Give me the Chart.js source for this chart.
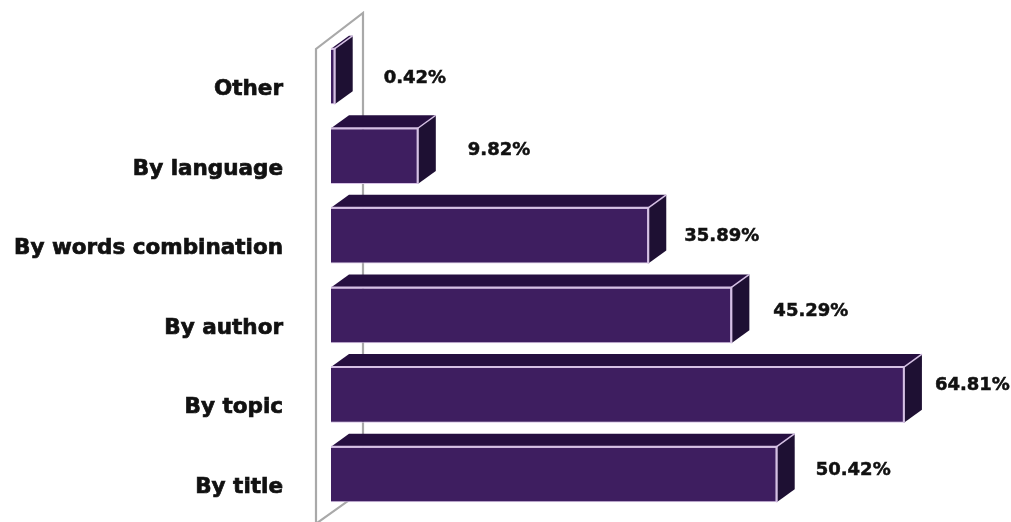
<!DOCTYPE html>
<html>
<head>
<meta charset="utf-8">
<title>Search types</title>
<script src="https://cdn.jsdelivr.net/npm/chart.js@4/dist/chart.umd.min.js"></script>
<style>
  html, body { margin: 0; padding: 0; background: #fff; }
  #chart { display: block; }
</style>
</head>
<body>
<canvas id="chart" width="1011" height="522"></canvas>
<script>
// Categories run top to bottom
const categories = ['Other', 'By language', 'By words combination', 'By author', 'By topic', 'By title'];
const percentages = [0.42, 9.82, 35.89, 45.29, 64.81, 50.42];
// Hand placed value labels: gap after the bar end and shift from the bar centre
const labelGaps = [49, 50, 36, 42, 31, 39];
const labelShifts = [1.5, -6, 1, -4, -10, -4.5];

const DEPTH_X = 18;
const DEPTH_Y = 13;
const VALUE_FONT = 'bold 18px "DejaVu Sans"';

const INK = '#111';
const FRONT = '#3e1e60';
const TOP = '#260f40';
const SIDE = '#1e1033';
const EDGE = '#d5c0e4';
const WALL = '#a9a9a9';

function fillPoly(ctx, points, color) {
  ctx.beginPath();
  points.forEach(([x, y], i) => (i ? ctx.lineTo(x, y) : ctx.moveTo(x, y)));
  ctx.closePath();
  ctx.fillStyle = color;
  ctx.fill();
}

function strokeLine(ctx, points, color, width) {
  ctx.beginPath();
  points.forEach(([x, y], i) => (i ? ctx.lineTo(x, y) : ctx.moveTo(x, y)));
  ctx.strokeStyle = color;
  ctx.lineWidth = width;
  ctx.stroke();
}

// Thin wall behind the zero line
const wallPlugin = {
  id: 'wall',
  beforeDatasetsDraw(chart) {
    const { ctx, chartArea, height } = chart;
    const frontX = chartArea.left - 15;
    const backX = frontX + 47;
    const topY = chartArea.top - 23.7;
    ctx.save();
    strokeLine(ctx, [
      [frontX, height + 2],
      [frontX, topY + 36],
      [backX, topY],
      [backX, chartArea.bottom - 24],
      [frontX + 1, height + 1]
    ], WALL, 2.2);
    ctx.restore();
  }
};

// Top and side faces of each bar plus the value next to it
const boxPlugin = {
  id: 'box',
  afterDatasetsDraw(chart) {
    const { ctx } = chart;
    const bars = chart.getDatasetMeta(0).data;
    ctx.save();
    bars.forEach((bar, i) => {
      const left = bar.base;
      const right = bar.x;
      const top = bar.y - bar.height / 2;
      const bottom = bar.y + bar.height / 2;

      fillPoly(ctx, [
        [left, top], [right, top],
        [right + DEPTH_X, top - DEPTH_Y], [left + DEPTH_X, top - DEPTH_Y]
      ], TOP);
      fillPoly(ctx, [
        [right, top], [right + DEPTH_X, top - DEPTH_Y],
        [right + DEPTH_X, bottom - DEPTH_Y], [right, bottom]
      ], SIDE);

      strokeLine(ctx, [[left, top], [right, top], [right, bottom]], EDGE, 2);
      strokeLine(ctx, [[right, top], [right + DEPTH_X, top - DEPTH_Y]], EDGE, 1.5);

      const text = percentages[i].toFixed(2) + '%';
      const x = right + labelGaps[i];
      const y = bar.y + labelShifts[i];
      ctx.font = VALUE_FONT;
      ctx.textAlign = 'left';
      ctx.textBaseline = 'middle';
      ctx.strokeStyle = INK;
      ctx.lineWidth = 0.5;
      ctx.strokeText(text, x, y);
      ctx.fillStyle = INK;
      ctx.fillText(text, x, y);
    });
    ctx.restore();
  }
};

new Chart(document.getElementById('chart'), {
  type: 'bar',
  data: {
    labels: categories,
    datasets: [{
      data: percentages,
      backgroundColor: FRONT,
      borderColor: EDGE,
      borderWidth: 1,
      categoryPercentage: 1,
      barPercentage: 0.7
    }]
  },
  options: {
    indexAxis: 'y',
    responsive: false,
    animation: false,
    layout: { padding: { top: 36.7, right: 17, bottom: 7.7, left: 0 } },
    plugins: { legend: { display: false }, tooltip: { enabled: false } },
    scales: {
      x: { display: false, min: 0, max: 75 },
      y: {
        afterFit(scale) {
          scale.width = 331;
          // ticks.padding would otherwise be reserved above and below the plot too
          scale.paddingTop = 0;
          scale.paddingBottom = 0;
        },
        grid: { display: false, drawTicks: false },
        border: { display: false },
        ticks: {
          autoSkip: false,
          padding: 48,
          labelOffset: 13,
          color: INK,
          textStrokeColor: INK,
          textStrokeWidth: 0.7,
          font: { family: '"DejaVu Sans"', size: 21.5, weight: 'bold' }
        }
      }
    }
  },
  plugins: [wallPlugin, boxPlugin]
});
</script>
</body>
</html>
